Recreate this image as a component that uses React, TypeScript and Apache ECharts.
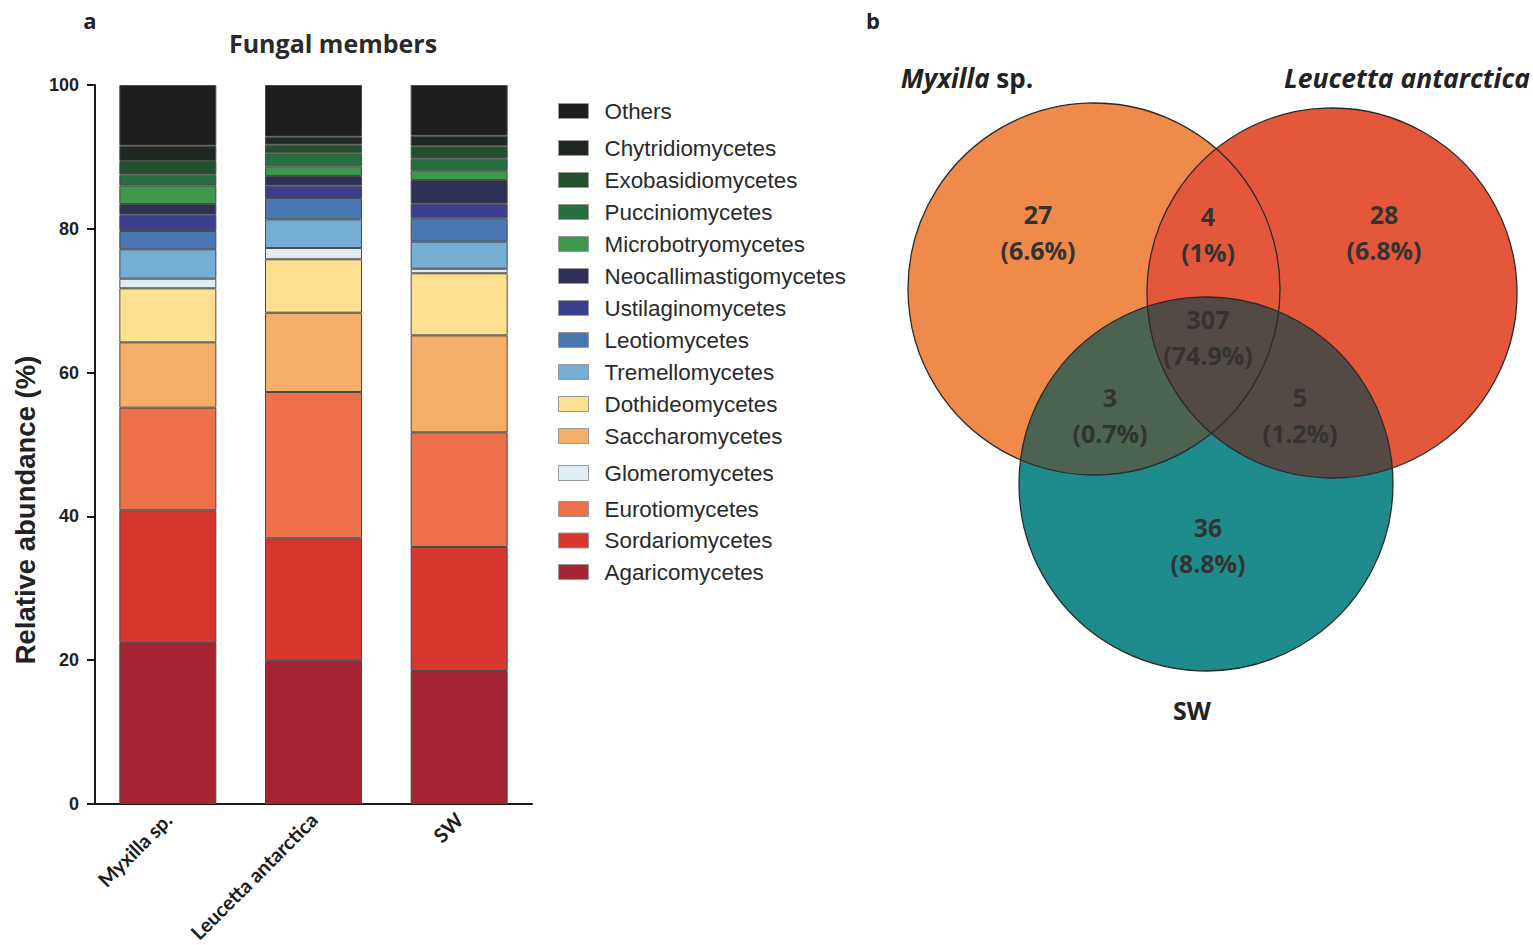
import React, { useEffect, useRef } from "react";
import * as echarts from "echarts";

const categories = ["Myxilla sp.", "Leucetta antarctica", "SW"];
const yTicks = [0, 20, 40, 60, 80, 100];

// stack order: bottom -> top
const agaricomycetes = [22.4, 19.9, 18.5];
const sordariomycetes = [18.45, 17.05, 17.24];
const eurotiomycetes = [14.27, 20.35, 15.95];
const saccharomycetes = [9.09, 11.03, 13.49];
const dothideomycetes = [7.51, 7.43, 8.63];
const glomeromycetes = [1.34, 1.57, 0.64];
const tremellomycetes = [4.09, 3.99, 3.76];
const leotiomycetes = [2.54, 2.96, 3.25];
const ustilaginomycetes = [2.27, 1.72, 2.03];
const neocallimastigomycetes = [1.49, 1.34, 3.3];
const microbotryomycetes = [2.55, 1.35, 1.29];
const pucciniomycetes = [1.53, 1.81, 1.67];
const exobasidiomycetes = [1.9, 1.2, 1.72];
const chytridiomycetes = [2.13, 1.11, 1.48];
const others = [8.44, 7.19, 7.05];

const seriesDefs: [string, number[], string][] = [
  ["Agaricomycetes", agaricomycetes, "#A52533"],
  ["Sordariomycetes", sordariomycetes, "#D83730"],
  ["Eurotiomycetes", eurotiomycetes, "#EC714A"],
  ["Saccharomycetes", saccharomycetes, "#F5AE67"],
  ["Dothideomycetes", dothideomycetes, "#FDE08F"],
  ["Glomeromycetes", glomeromycetes, "#E0EEF3"],
  ["Tremellomycetes", tremellomycetes, "#76ADD2"],
  ["Leotiomycetes", leotiomycetes, "#4877B4"],
  ["Ustilaginomycetes", ustilaginomycetes, "#3A3F8F"],
  ["Neocallimastigomycetes", neocallimastigomycetes, "#2E3055"],
  ["Microbotryomycetes", microbotryomycetes, "#3D974C"],
  ["Pucciniomycetes", pucciniomycetes, "#276F3E"],
  ["Exobasidiomycetes", exobasidiomycetes, "#23512F"],
  ["Chytridiomycetes", chytridiomycetes, "#1F2922"],
  ["Others", others, "#1E1E1E"],
];

const legendGroup1 = ["Others"];
const legendGroup2 = [
  "Chytridiomycetes",
  "Exobasidiomycetes",
  "Pucciniomycetes",
  "Microbotryomycetes",
  "Neocallimastigomycetes",
  "Ustilaginomycetes",
  "Leotiomycetes",
  "Tremellomycetes",
  "Dothideomycetes",
  "Saccharomycetes",
];
const legendGroup3 = ["Glomeromycetes"];
const legendGroup4 = ["Eurotiomycetes", "Sordariomycetes", "Agaricomycetes"];

// Venn
const vennSets = ["Myxilla", "Leucetta antarctica", "SW"];
const vennCounts = [27, 4, 28, 307, 3, 5, 36];
const vennPercents = ["6.6%", "1%", "6.8%", "74.9%", "0.7%", "1.2%", "8.8%"];

type C = { cx: number; cy: number; r: number };
const circA: C = { cx: 1094, cy: 289, r: 186 };
const circB: C = { cx: 1332, cy: 293, r: 185 };
const circC: C = { cx: 1206, cy: 484, r: 187 };

function lens(a: C, b: C): number[][] {
  const dx = b.cx - a.cx;
  const dy = b.cy - a.cy;
  const d = Math.sqrt(dx * dx + dy * dy);
  const th = Math.atan2(dy, dx);
  const aa = (d * d + a.r * a.r - b.r * b.r) / (2 * d);
  const alpha = Math.acos(aa / a.r);
  const beta = Math.acos((d - aa) / b.r);
  const pts: number[][] = [];
  const n = 120;
  for (let i = 0; i <= n; i++) {
    const t = th - alpha + (2 * alpha * i) / n;
    pts.push([a.cx + a.r * Math.cos(t), a.cy + a.r * Math.sin(t)]);
  }
  for (let i = 0; i <= n; i++) {
    const t = th + Math.PI - beta + (2 * beta * i) / n;
    pts.push([b.cx + b.r * Math.cos(t), b.cy + b.r * Math.sin(t)]);
  }
  return pts;
}

const vennPos = [
  [1038, 232],
  [1208, 234],
  [1384, 232],
  [1208, 337],
  [1110, 415],
  [1300, 415],
  [1208, 545],
];

export default function App() {
  const ref = useRef<HTMLDivElement>(null);
  useEffect(() => {
    if (!ref.current) return;
    const chart = echarts.init(ref.current, null, { renderer: "svg" });
    const legendCommon = {
      orient: "vertical",
      left: 558,
      padding: 0,
      itemWidth: 30,
      itemHeight: 15,
      itemStyle: { borderColor: "#999", borderWidth: 1 },
      textStyle: {
        fontFamily: "Liberation Sans, Arial",
        fontSize: 22.4,
        color: "#2a2a2a",
        lineHeight: 22,
        padding: [0, 0, 0, 11],
      },
      selectedMode: false,
      icon: "rect",
    };
    const vennText = (i: number) => ({
      type: "text",
      x: vennPos[i][0],
      y: vennPos[i][1],
      z: 20,
      style: {
        text: `${vennCounts[i]}\n(${vennPercents[i]})`,
        fontFamily: "Open Sans",
        fontWeight: "bold",
        fontSize: 25,
        lineHeight: 36,
        fill: "#333333",
        align: "center",
        verticalAlign: "middle",
      },
    });
    const option: any = {
      animation: false,
      grid: { left: 95, right: 1001, top: 85, bottom: 141, containLabel: false },
      xAxis: {
        type: "category",
        data: categories,
        axisLine: { lineStyle: { color: "#1a1a1a", width: 2 } },
        axisTick: { alignWithLabel: true, length: 7, lineStyle: { color: "#1a1a1a", width: 2 } },
        axisLabel: {
          rotate: 45,
          interval: 0,
          margin: 12,
          fontFamily: "Lato",
          fontWeight: "bold",
          fontSize: 20,
          color: "#1a1a1a",
        },
      },
      yAxis: {
        type: "value",
        min: 0,
        max: 100,
        interval: 20,
        splitLine: { show: false },
        axisLine: { show: true, lineStyle: { color: "#1a1a1a", width: 2 } },
        axisTick: { show: true, length: 8, lineStyle: { color: "#1a1a1a", width: 2 } },
        axisLabel: {
          margin: 16,
          fontFamily: "Liberation Sans, Arial",
          fontWeight: "bold",
          fontSize: 18,
          color: "#222",
          formatter: (v: number) => (yTicks.includes(v) ? String(v) : ""),
        },
      },
      legend: [
        { ...legendCommon, top: 100, data: legendGroup1 },
        { ...legendCommon, top: 137, itemGap: 10, data: legendGroup2 },
        { ...legendCommon, top: 462, data: legendGroup3 },
        { ...legendCommon, top: 498, itemGap: 9.5, data: legendGroup4 },
      ],
      series: seriesDefs.map(([name, data, color]) => ({
        name,
        type: "bar",
        stack: "total",
        data,
        barWidth: 97,
        itemStyle: { color, borderColor: "#4a4a4a", borderWidth: 1 },
      })),
      graphic: [
        {
          type: "text",
          x: 90,
          y: 20,
          style: { text: "a", fontFamily: "Open Sans", fontWeight: "bold", fontSize: 22, fill: "#222", align: "center", verticalAlign: "middle" },
        },
        {
          type: "text",
          x: 873,
          y: 20,
          style: { text: "b", fontFamily: "Open Sans", fontWeight: "bold", fontSize: 22, fill: "#222", align: "center", verticalAlign: "middle" },
        },
        {
          type: "text",
          x: 333,
          y: 43,
          style: { text: "Fungal members", fontFamily: "Open Sans", fontWeight: "bold", fontSize: 25, fill: "#2a2a2a", align: "center", verticalAlign: "middle" },
        },
        {
          type: "text",
          x: 25,
          y: 510,
          rotation: Math.PI / 2,
          style: { text: "Relative abundance (%)", fontFamily: "Liberation Sans, Arial", fontWeight: "bold", fontSize: 27.5, fill: "#222", align: "center", verticalAlign: "middle" },
        },
        // Venn circles
        { type: "circle", z: 10, shape: circA, style: { fill: "#F08A4B", stroke: "none" } },
        { type: "circle", z: 11, shape: circB, style: { fill: "#E5573B", stroke: "none" } },
        { type: "circle", z: 12, shape: circC, style: { fill: "#1E8C8C", stroke: "none" } },
        { type: "polygon", z: 13, shape: { points: lens(circA, circC) }, style: { fill: "#4B6350", stroke: "none" } },
        { type: "polygon", z: 14, shape: { points: lens(circB, circC) }, style: { fill: "#544A45", stroke: "none" } },
        { type: "circle", z: 15, shape: circA, style: { fill: "none", stroke: "#2a2a2a", lineWidth: 1.3 } },
        { type: "circle", z: 15, shape: circB, style: { fill: "none", stroke: "#2a2a2a", lineWidth: 1.3 } },
        { type: "circle", z: 15, shape: circC, style: { fill: "none", stroke: "#2a2a2a", lineWidth: 1.3 } },
        ...vennCounts.map((_, i) => vennText(i)),
        {
          type: "text",
          x: 967,
          y: 78,
          z: 20,
          style: {
            text: `{i|${vennSets[0]}}{n| sp.}`,
            align: "center",
            verticalAlign: "middle",
            rich: {
              i: { fontFamily: "Open Sans", fontWeight: "bold", fontStyle: "italic", fontSize: 26, fill: "#222" },
              n: { fontFamily: "Open Sans", fontWeight: "bold", fontSize: 26, fill: "#222" },
            },
          },
        },
        {
          type: "text",
          x: 1407,
          y: 78,
          z: 20,
          style: { text: vennSets[1], fontFamily: "Open Sans", fontWeight: "bold", fontStyle: "italic", fontSize: 26.5, fill: "#222", align: "center", verticalAlign: "middle" },
        },
        {
          type: "text",
          x: 1192,
          y: 710,
          z: 20,
          style: { text: vennSets[2], fontFamily: "Open Sans", fontWeight: "bold", fontSize: 25, fill: "#222", align: "center", verticalAlign: "middle" },
        },
      ],
    };
    chart.setOption(option);
    return () => chart.dispose();
  }, []);
  return (
    <div
      ref={ref}
      style={{ position: "fixed", left: 0, top: 0, width: 1533, height: 945, background: "#fff" }}
    />
  );
}
